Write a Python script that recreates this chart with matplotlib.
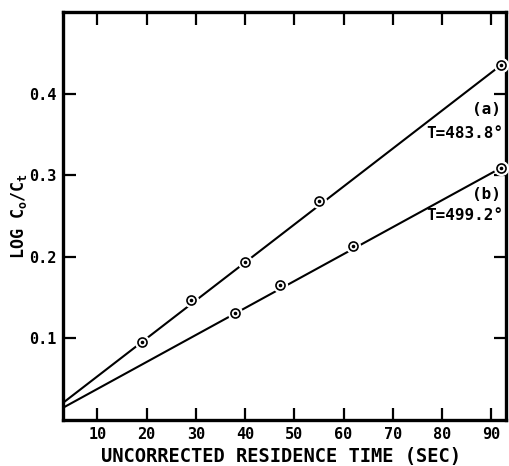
import numpy as np
import matplotlib.pyplot as plt

plt.rcParams['font.family'] = ['DejaVu Sans Mono', 'DejaVu Sans']
plt.rcParams['font.weight'] = 'bold'
plt.rcParams['axes.labelweight'] = 'bold'
plt.rcParams['mathtext.default'] = 'bf'

# series (a) T=483.8
time_a = [19, 29, 40, 55, 92]
logc_a = [0.095, 0.147, 0.194, 0.268, 0.435]
# series (b) T=499.2
time_b = [38, 47, 62, 92]
logc_b = [0.131, 0.166, 0.213, 0.309]

# straight lines drawn through the points
line_x = [3, 92]
line_a = [0.021, 0.435]
line_b = [0.015, 0.309]

xticks = [10, 20, 30, 40, 50, 60, 70, 80, 90]
yticks = [0.1, 0.2, 0.3, 0.4]

fig = plt.figure(figsize=(5.09, 4.66), dpi=100)
ax = fig.add_axes([63/509, 46/466, 443/509, 408/466])

for ys in (line_a, line_b):
    ax.plot(line_x, ys, color='black', lw=1.5, zorder=2, solid_capstyle='butt')

for xs, ys in ((time_a, logc_a), (time_b, logc_b)):
    # white halo gives the gap in the line around each point
    ax.plot(xs, ys, 'o', ms=11, mfc='white', mec='none', zorder=3, clip_on=False)
    ax.plot(xs, ys, 'o', ms=6.5, mfc='white', mec='black', mew=1.2, zorder=4, clip_on=False)
    ax.plot(xs, ys, 'o', ms=1.6, color='black', zorder=5, clip_on=False)

ax.set_xlim(3, 93)
ax.set_ylim(0, 0.5)
ax.set_xticks(xticks)
ax.set_yticks(yticks)
ax.set_xticklabels([str(t) for t in xticks])
ax.set_yticklabels([str(t) for t in yticks])

ax.tick_params(direction='in', length=9, width=1.6, top=True, right=True,
               labelsize=11, pad=5)
for s in ax.spines.values():
    s.set_linewidth(2.4)

ax.set_xlabel('UNCORRECTED RESIDENCE TIME (SEC)', fontsize=13.5, va='center')
ax.xaxis.set_label_coords(0.492, -0.09)
ax.set_ylabel(r'LOG C$_\mathregular{o}$/C$_\mathregular{t}$', fontsize=12, va='center')
ax.yaxis.set_label_coords(-0.1, 0.5)

ax.text(89, 0.380, '(a)', fontsize=11.5, ha='center', va='center')
ax.text(92.4, 0.351, 'T=483.8°', fontsize=11.5, ha='right', va='center')
ax.text(89, 0.276, '(b)', fontsize=11.5, ha='center', va='center')
ax.text(92.4, 0.250, 'T=499.2°', fontsize=11.5, ha='right', va='center')

fig.savefig('out.png', dpi=100)
